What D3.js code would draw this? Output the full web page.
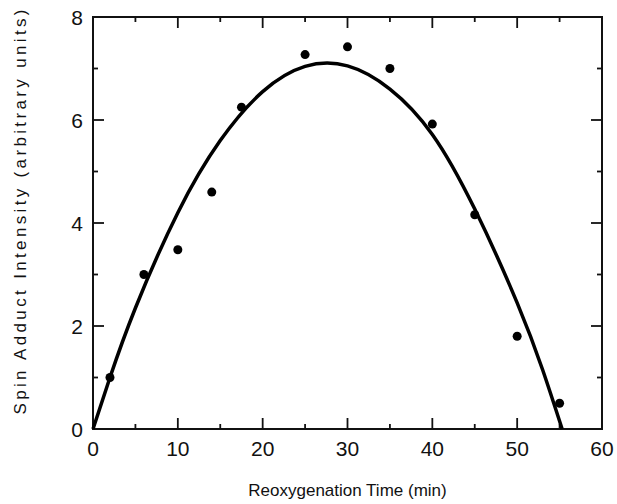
<!DOCTYPE html>
<html>

<head>
    <meta charset="utf-8">
    <style>
        body {
            margin: 0;
            background: #fff;
            font-family: 'Liberation Sans', Arial, sans-serif;
        }

        svg {
            display: block;
        }

        .tick-label {
            font-size: 21px;
            fill: #111;
        }

        .axis-title {
            font-size: 17px;
            fill: #111;
        }
    </style>
</head>

<body>
    <svg width="617" height="504"></svg>
</body>

<script src="https://d3js.org/d3.v7.min.js"></script>

<script>
    // measured points
    let times = [2, 6, 10, 14, 17.5, 25, 30, 35, 40, 45, 50, 55]
    let intensity = [1.0, 3.0, 3.48, 4.6, 6.25, 7.27, 7.42, 7.0, 5.92, 4.16, 1.8, 0.5]

    // fitted curve
    let curveTimes = [0, 2, 5, 10, 15, 20, 25, 30, 35, 40, 45, 50, 53, 55.3]
    let curveValues = [0, 1.0, 2.35, 4.2, 5.6, 6.55, 7.04, 7.05, 6.6, 5.72, 4.27, 2.45, 1.15, 0]

    let xTicks = [0, 10, 20, 30, 40, 50, 60]
    let yTicks = [0, 2, 4, 6, 8]

    let margin = { top: 17, right: 15, bottom: 75, left: 93 }
    let width = 617
    let height = 504

    let svg = d3.select("svg")

    let x = d3.scaleLinear()
        .domain([0, 60])
        .range([margin.left, width - margin.right])

    let y = d3.scaleLinear()
        .domain([0, 8])
        .range([height - margin.bottom, margin.top])

    let x0 = x(0), x1 = x(60), y0 = y(0), y1 = y(8)

    // frame
    svg.append("rect")
        .attr("x", x0)
        .attr("y", y1)
        .attr("width", x1 - x0)
        .attr("height", y0 - y1)
        .attr("fill", "none")
        .attr("stroke", "#111")
        .attr("stroke-width", 2)

    // inward ticks on all four sides
    let major = 11, minor = 5

    let xAll = d3.range(5, 60, 5)
    let yAll = d3.range(1, 8, 1)

    let tickG = svg.append("g")
        .attr("stroke", "#111")
        .attr("stroke-width", 1.8)

    xAll.forEach(function (t) {
        let len = t % 10 == 0 ? major : minor
        tickG.append("line")
            .attr("x1", x(t)).attr("x2", x(t))
            .attr("y1", y0).attr("y2", y0 - len)
        tickG.append("line")
            .attr("x1", x(t)).attr("x2", x(t))
            .attr("y1", y1).attr("y2", y1 + len)
    })

    yAll.forEach(function (t) {
        let len = t % 2 == 0 ? major : minor
        tickG.append("line")
            .attr("y1", y(t)).attr("y2", y(t))
            .attr("x1", x0).attr("x2", x0 + len)
        tickG.append("line")
            .attr("y1", y(t)).attr("y2", y(t))
            .attr("x1", x1).attr("x2", x1 - len)
    })

    // tick labels
    svg.append("g")
        .selectAll("text")
        .data(xTicks)
        .join("text")
        .attr("class", "tick-label")
        .attr("x", d => x(d))
        .attr("y", y0 + 27)
        .attr("text-anchor", "middle")
        .text(d => d)

    svg.append("g")
        .selectAll("text")
        .data(yTicks)
        .join("text")
        .attr("class", "tick-label")
        .attr("x", x0 - 10)
        .attr("y", d => y(d) + 7.5)
        .attr("text-anchor", "end")
        .text(d => d)

    // axis titles
    svg.append("text")
        .attr("class", "axis-title")
        .attr("x", (x0 + x1) / 2)
        .attr("y", 496)
        .attr("text-anchor", "middle")
        .text("Reoxygenation Time (min)")

    svg.append("text")
        .attr("class", "axis-title")
        .attr("transform", `translate(26,212) rotate(-90)`)
        .attr("text-anchor", "middle")
        .attr("textLength", 405)
        .attr("lengthAdjust", "spacing")
        .text("Spin Adduct Intensity (arbitrary units)")

    // fitted curve
    let curveData = curveTimes.map(function (t, i) { return { t: t, v: curveValues[i] } })

    let line = d3.line()
        .x(d => x(d.t))
        .y(d => y(d.v))
        .curve(d3.curveNatural)

    svg.append("path")
        .datum(curveData)
        .attr("d", line)
        .attr("fill", "none")
        .attr("stroke", "#000")
        .attr("stroke-width", 3.5)

    // points
    let points = times.map(function (t, i) { return { t: t, v: intensity[i] } })

    svg.append("g")
        .selectAll("circle")
        .data(points)
        .join("circle")
        .attr("cx", d => x(d.t))
        .attr("cy", d => y(d.v))
        .attr("r", 4.5)
        .attr("fill", "#000")
</script>

</html>
